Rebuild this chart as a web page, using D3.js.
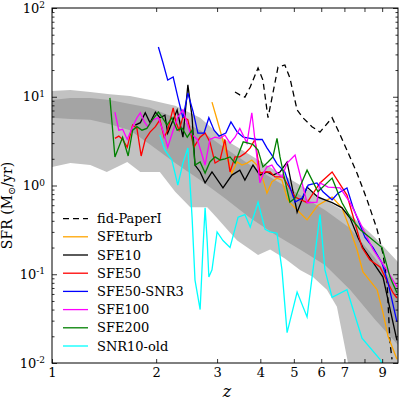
<!DOCTYPE html>
<html>
<head>
<meta charset="utf-8">
<script src="https://cdn.jsdelivr.net/npm/d3@7"></script>
<style>
body { margin: 0; background: #fff; }
svg text { font-family: "DejaVu Serif", serif; fill: #000; }
</style>
</head>
<body>
<div id="chart"></div>
<script>
// ---- data (z, SFR in Msun/yr) ----
var fidZ = [3.38,3.49,3.61,3.74,3.94,4.07,4.21,4.35,4.50,4.71,4.87,5.11,5.31,5.64,5.95,6.45,6.71,7.12,7.61,8.14,8.70,9.05,9.30,9.48,9.61];
var fidSFR = [11.3,10.5,9.9,12.9,21.1,15.4,5.8,11.0,21.6,22.8,16.3,7.1,5.8,4.6,4.0,5.8,4.2,2.5,1.38,0.69,0.32,0.17,0.08,0.017,0.011];

var turbZ = [2.90,3.00,3.10,3.21,3.31,3.43,3.54,3.66,3.78,3.91,4.05,4.18,4.32,4.47,4.62,4.78,4.87,5.11,5.46,5.87,6.45,6.89,7.27,7.61,7.92,8.70,9.05,9.36,9.93];
var turbSFR = [8.7,5.5,3.5,2.1,1.38,1.84,1.70,1.79,1.94,1.70,1.25,0.82,1.10,1.21,1.15,0.72,0.64,0.53,0.41,0.60,0.74,0.56,0.32,0.19,0.106,0.067,0.037,0.020,0.011];

var sfe10Z = [1.74,1.80,1.86,1.92,1.99,2.05,2.12,2.16,2.24,2.30,2.39,2.47,2.54,2.59,2.68,2.77,2.90,3.12,3.31,3.49,3.61,3.81,3.99,4.18,4.35,4.56,4.78,5.11,5.46,5.87,6.45,6.89,7.27,7.66,7.92,9.05,9.36,9.93];
var sfe10SFR = [4.8,5.1,6.6,5.1,6.7,5.8,6.2,3.9,5.5,7.1,3.5,13.6,5.9,1.70,1.42,1.07,1.42,0.94,1.31,1.49,1.15,1.70,1.31,1.42,1.31,1.42,1.84,0.50,0.96,0.74,0.64,0.56,0.43,0.26,0.20,0.093,0.051,0.018];

var sfe50Z = [1.52,1.56,1.60,1.65,1.71,1.76,1.81,1.86,1.92,1.99,2.05,2.11,2.16,2.24,2.28,2.33,2.39,2.47,2.57,2.68,2.77,2.86,2.96,3.06,3.16,3.27,3.38,3.49,3.61,3.74,3.86,3.99,4.13,4.27,4.41,4.65,5.04,5.46,5.95,6.45,7.12,7.87,8.30,8.87,9.67,9.93];
var sfe50SFR = [3.4,3.6,3.3,2.7,4.8,4.4,2.15,3.3,4.0,4.6,5.5,3.5,4.2,7.5,5.2,4.2,5.9,5.5,2.7,3.5,3.9,3.1,1.79,1.94,3.3,1.42,2.1,2.1,2.3,2.65,3.3,1.38,1.42,1.42,1.25,1.25,0.74,0.64,1.07,1.42,0.78,0.20,0.145,0.121,0.062,0.054];

var snr3Z = [2.03,2.09,2.16,2.24,2.31,2.39,2.47,2.56,2.64,2.75,2.84,2.94,3.04,3.18,3.29,3.43,3.57,3.74,3.91,4.05,4.18,4.32,4.47,4.71,5.04,5.28,5.50,5.83,6.07,6.45,6.71,7.12,7.41,8.03,8.47,8.99,9.36,9.93];
var snr3SFR = [36.4,24.6,15.4,16.7,9.9,5.8,11.0,6.7,3.9,3.9,5.8,4.2,3.6,3.9,5.2,4.0,3.5,3.4,3.3,3.3,2.65,2.2,1.75,1.42,0.65,0.72,1.01,1.07,0.85,0.69,0.82,0.94,0.57,0.26,0.20,0.134,0.080,0.029];

var sfe100Z = [1.52,1.56,1.60,1.65,1.71,1.76,1.80,1.85,1.89,1.96,2.03,2.09,2.16,2.24,2.31,2.39,2.51,2.63,2.77,2.86,2.96,3.06,3.16,3.27,3.38,3.49,3.66,3.78,3.89,3.99,4.10,4.18,4.32,4.47,4.62,4.78,5.04,5.46,5.83,5.95,6.28,6.80,7.27,7.77,8.47,8.99,9.36,9.93];
var sfe100SFR = [6.7,4.2,4.3,3.3,4.6,5.8,6.6,5.2,4.6,5.5,5.8,4.2,2.7,4.2,5.9,7.1,3.9,3.3,1.70,3.3,3.5,3.4,3.7,3.0,3.5,4.4,3.0,6.6,2.5,1.07,1.42,1.62,1.70,1.38,1.25,1.79,2.2,0.64,0.65,1.07,0.96,0.94,0.64,0.38,0.19,0.134,0.106,0.072];

var sfe200Z = [1.47,1.52,1.60,1.66,1.71,1.76,1.82,1.88,1.95,2.03,2.08,2.15,2.22,2.30,2.38,2.46,2.54,2.59,2.68,2.77,2.86,2.96,3.06,3.16,3.27,3.38,3.57,3.69,3.81,3.94,4.07,4.21,4.35,4.47,4.56,4.71,4.87,5.04,5.46,5.87,6.45,6.89,7.27,7.77,8.99,9.48,9.93];
var sfe200SFR = [9.7,2.1,3.5,2.15,4.2,4.6,4.2,4.4,5.5,6.7,5.9,4.8,5.8,4.2,4.4,3.5,4.2,1.70,1.84,1.38,1.84,2.1,1.94,2.0,2.1,1.79,3.1,3.0,2.9,2.5,1.62,1.84,2.1,3.4,2.1,1.15,0.65,0.72,1.49,0.85,1.21,0.64,0.44,0.32,0.20,0.093,0.062];

var snr10Z = [2.05,2.12,2.22,2.31,2.39,2.47,2.54,2.59,2.68,2.73,2.77,2.81,2.84,2.90,3.00,3.12,3.27,3.45,3.61,3.74,3.94,4.13,4.27,4.47,4.62,4.78,5.11,5.46,5.95,6.15,6.45,7.12,7.87,8.87,9.48];
var snr10SFR = [3.7,2.5,1.94,1.01,1.79,2.65,0.44,0.086,0.040,0.19,0.56,0.23,0.093,0.112,0.30,0.24,0.20,0.44,0.47,0.34,0.65,0.32,0.30,0.29,0.112,0.022,0.063,0.033,0.47,0.112,0.055,0.067,0.019,0.011,0.0065];

// shaded bands
var bandZ = [1.00,1.13,1.29,1.47,1.68,1.92,2.27,2.68,3.16,3.74,4.41,5.21,6.15,7.27,8.58,10.0];
var lightTop = [11.6,11.9,11.3,10.7,10.2,9.2,7.9,5.8,3.3,2.2,1.49,1.01,0.69,0.47,0.26,0.137];
var darkTop = [9.2,9.7,9.7,9.2,8.3,7.5,5.8,4.2,2.65,1.70,1.15,0.78,0.53,0.33,0.152,0.067];
var darkBot = [5.8,5.6,5.5,4.9,4.2,2.9,1.79,1.15,0.72,0.43,0.28,0.19,0.127,0.067,0.031,0.016];
var lowZ = [1.00,1.13,1.29,1.44,1.65,1.80,2.05,2.27,2.51,2.81,3.00,3.21,3.43,3.74,3.94,4.27,4.71,5.21,5.68,6.23,6.66,6.89,7.17,7.77,10.0];
var lightBot = [1.62,1.79,1.70,1.42,1.84,1.42,1.42,0.85,0.57,0.57,0.43,0.32,0.24,0.19,0.165,0.19,0.15,0.112,0.093,0.067,0.043,0.022,0.010,0.004,0.003];

var xTicks = [1,2,3,4,5,6,7,8,9];
var yTicks = [0.01,0.1,1,10,100];

var series = [
  {name: 'fid-PaperI', z: fidZ, v: fidSFR, color: '#000000', dash: '6,4'},
  {name: 'SFEturb', z: turbZ, v: turbSFR, color: '#ffa500'},
  {name: 'SFE10', z: sfe10Z, v: sfe10SFR, color: '#000000'},
  {name: 'SFE50', z: sfe50Z, v: sfe50SFR, color: '#ff0000'},
  {name: 'SFE50-SNR3', z: snr3Z, v: snr3SFR, color: '#0000ff'},
  {name: 'SFE100', z: sfe100Z, v: sfe100SFR, color: '#ff00ff'},
  {name: 'SFE200', z: sfe200Z, v: sfe200SFR, color: '#008000'},
  {name: 'SNR10-old', z: snr10Z, v: snr10SFR, color: '#00ffff'}
];

var margin = {top: 8, right: 1, bottom: 42, left: 52},
    width = 399 - margin.left - margin.right,
    height = 405 - margin.top - margin.bottom;

var x = d3.scaleLog().domain([1, 10]).range([0, width]);
var y = d3.scaleLog().domain([0.01, 100]).range([height, 0]);

var svg = d3.select('#chart')
  .append('svg')
    .attr('width', 399)
    .attr('height', 405)
  .append('g')
    .attr('transform', 'translate(' + margin.left + ',' + margin.top + ')');

svg.append('clipPath').attr('id', 'plotclip')
  .append('rect').attr('width', width).attr('height', height);

var plot = svg.append('g').attr('clip-path', 'url(#plotclip)');

var line = d3.line()
  .x(function(d) { return x(d[0]); })
  .y(function(d) { return y(d[1]); });

function zip(zs, vs) { return zs.map(function(z, i) { return [z, vs[i]]; }); }

// light band: top edge forward, bottom edge back
var lightPoly = zip(bandZ, lightTop).concat(zip(lowZ, lightBot).reverse());
plot.append('path').attr('d', line(lightPoly) + 'Z').attr('fill', '#c2c2c2');

var darkPoly = zip(bandZ, darkTop).concat(zip(bandZ, darkBot).reverse());
plot.append('path').attr('d', line(darkPoly) + 'Z').attr('fill', '#a4a4a4');

series.forEach(function(s) {
  plot.append('path')
    .datum(zip(s.z, s.v))
    .attr('fill', 'none')
    .attr('stroke', s.color)
    .attr('stroke-width', 1.3)
    .attr('stroke-dasharray', s.dash || null)
    .attr('d', line);
});

// axes, ticks pointing inward on all four sides
var yMinor = [];
[0.01, 0.1, 1, 10].forEach(function(d) {
  for (var k = 2; k <= 9; k++) yMinor.push(d * k);
});

function styleAxis(g) {
  g.select('.domain').remove();
  g.selectAll('.tick line').attr('stroke', '#000').attr('stroke-width', 0.8);
}

var xAxis = svg.append('g')
  .attr('transform', 'translate(0,' + height + ')')
  .call(d3.axisBottom(x).tickValues(xTicks).tickSizeInner(-4).tickSizeOuter(0).tickPadding(5)
    .tickFormat(function(d) { return d === 8 ? '' : d; }));
styleAxis(xAxis);
xAxis.selectAll('.tick text').attr('font-size', 13);

var xTop = svg.append('g')
  .call(d3.axisTop(x).tickValues(xTicks).tickSizeInner(-4).tickSizeOuter(0).tickFormat(''));
styleAxis(xTop);

var yAxis = svg.append('g')
  .call(d3.axisLeft(y).tickValues(yTicks).tickSizeInner(-5).tickSizeOuter(0).tickPadding(7));
styleAxis(yAxis);
yAxis.selectAll('.tick text').each(function(d) {
  var t = d3.select(this).text(null).attr('font-size', 13);
  t.append('tspan').text('10');
  t.append('tspan').attr('dy', '-0.5em').attr('font-size', 9)
    .text(String(Math.round(Math.log10(d))));
});

var yMin = svg.append('g')
  .call(d3.axisLeft(y).tickValues(yMinor).tickSizeInner(-2.5).tickSizeOuter(0).tickFormat(''));
styleAxis(yMin);

var yRight = svg.append('g')
  .attr('transform', 'translate(' + width + ',0)')
  .call(d3.axisRight(y).tickValues(yTicks).tickSizeInner(-5).tickSizeOuter(0).tickFormat(''));
styleAxis(yRight);
var yRightMin = svg.append('g')
  .attr('transform', 'translate(' + width + ',0)')
  .call(d3.axisRight(y).tickValues(yMinor).tickSizeInner(-2.5).tickSizeOuter(0).tickFormat(''));
styleAxis(yRightMin);

svg.append('rect')
  .attr('width', width).attr('height', height)
  .attr('fill', 'none').attr('stroke', '#000').attr('stroke-width', 1);

// axis labels
svg.append('text')
  .attr('x', width / 2 + 2).attr('y', height + 34)
  .attr('text-anchor', 'middle')
  .attr('font-size', 16).attr('font-style', 'italic')
  .text('z');

var ylab = svg.append('text')
  .attr('transform', 'translate(' + (-40) + ',' + (height / 2 + 20) + ') rotate(-90)')
  .attr('text-anchor', 'middle')
  .attr('font-size', 14);
ylab.append('tspan').text('SFR (M');
ylab.append('tspan').attr('dy', 3).attr('font-size', 10).text('\u2299');
ylab.append('tspan').attr('dy', -3).text('/yr)');

// legend
var legend = svg.append('g').attr('transform', 'translate(11,210.6)');
series.forEach(function(s, i) {
  var row = legend.append('g').attr('transform', 'translate(0,' + (i * 18.2) + ')');
  row.append('line')
    .attr('x1', 0).attr('x2', 25)
    .attr('stroke', s.color).attr('stroke-width', 1.3)
    .attr('stroke-dasharray', s.dash || null);
  row.append('text')
    .attr('x', 34).attr('dy', '0.35em')
    .attr('font-size', 13)
    .text(s.name);
});
</script>
</body>
</html>
